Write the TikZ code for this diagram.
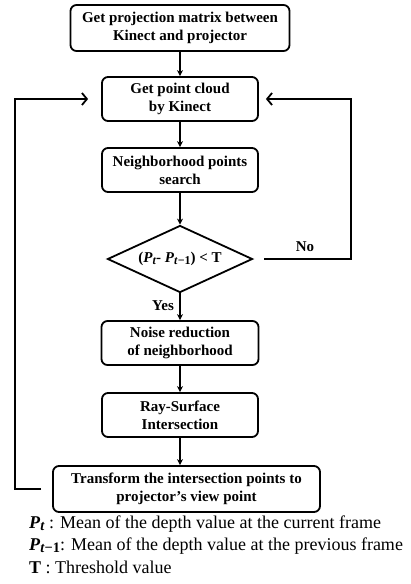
\documentclass[tikz,border=0pt]{standalone}
\usepackage{fontspec}
\setmainfont{Liberation Serif}
\usetikzlibrary{shapes.geometric,arrows.meta}
\newcommand{\mysub}[1]{\raisebox{-0.3ex}{\scalebox{0.8}{#1}}}
\tikzset{
  stepbox/.style={draw,line width=1.8pt,rounded corners=6pt,align=center,font=\fontsize{15}{18}\selectfont\bfseries,inner sep=1pt},
  flow/.style={line width=1.4pt,-{Stealth[length=6pt,width=6pt]}},
  loopline/.style={line width=1.8pt,-{Straight Barb[length=5pt,width=12pt,line width=1.8pt]}},
  lbl/.style={font=\fontsize{15}{17}\selectfont\bfseries},
  legend/.style={anchor=west,inner sep=0pt,font=\fontsize{18}{20}\selectfont}
}
\begin{document}
\begin{tikzpicture}[x=1pt,y=-1pt]
\useasboundingbox (0,0) rectangle (411,584);
\node[stepbox,minimum width=219pt,minimum height=46pt] (b1) at (180,28) {Get projection matrix between\\Kinect and projector};
\node[stepbox,minimum width=156pt,minimum height=44pt] (b2) at (180,99) {Get point cloud\\by Kinect};
\node[stepbox,minimum width=156pt,minimum height=44pt] (b3) at (180,170) {Neighborhood points\\search};
\node[draw,diamond,line width=1.8pt,aspect=2.16,inner sep=0pt,minimum width=145pt,minimum height=67pt,font=\fontsize{15}{17}\selectfont\bfseries] (d) at (180,259)
  {(\textit{P}\mysub{\textit{t}}- \textit{P}\mysub{\textit{t}−1}) < T};
\node[stepbox,minimum width=157pt,minimum height=44pt] (b4) at (180,343) {Noise reduction\\of neighborhood};
\node[stepbox,minimum width=156pt,minimum height=44pt] (b5) at (180,415) {Ray-Surface\\Intersection};
\node[stepbox,minimum width=267pt,minimum height=46pt] (b6) at (186.5,489) {Transform the intersection points to\\projector’s view point};
\node[lbl] (no) at (305,247) {No};
\node[lbl] (yes) at (163,306) {Yes};
\draw[flow] (b1) -- (b2);
\draw[flow] (b2) -- (b3);
\draw[flow] (b3) -- (d);
\draw[flow] (d) -- (b4);
\draw[flow] (b4) -- (b5);
\draw[flow] (b5.south) -- (b5.south |- b6.north);
\draw[loopline] ([xshift=11pt]d.east) -| ([xshift=92pt]b2.east) -- ([xshift=7pt]b2.east);
\draw[loopline] ([xshift=-11pt]b6.west) -| ([xshift=-86pt]b2.west) -- ([xshift=-13pt]b2.west);
\node[legend] (l1) at (29,524) {\textbf{\textit{P}\mysub{\textit{t}}} : Mean of the depth value at the current frame};
\node[legend] (l2) at (29,546) {\textbf{\textit{P}\mysub{\textit{t}−1}}: Mean of the depth value at the previous frame};
\node[legend] (l3) at (29,567) {\textbf{T} : Threshold value};
\end{tikzpicture}
\end{document}
